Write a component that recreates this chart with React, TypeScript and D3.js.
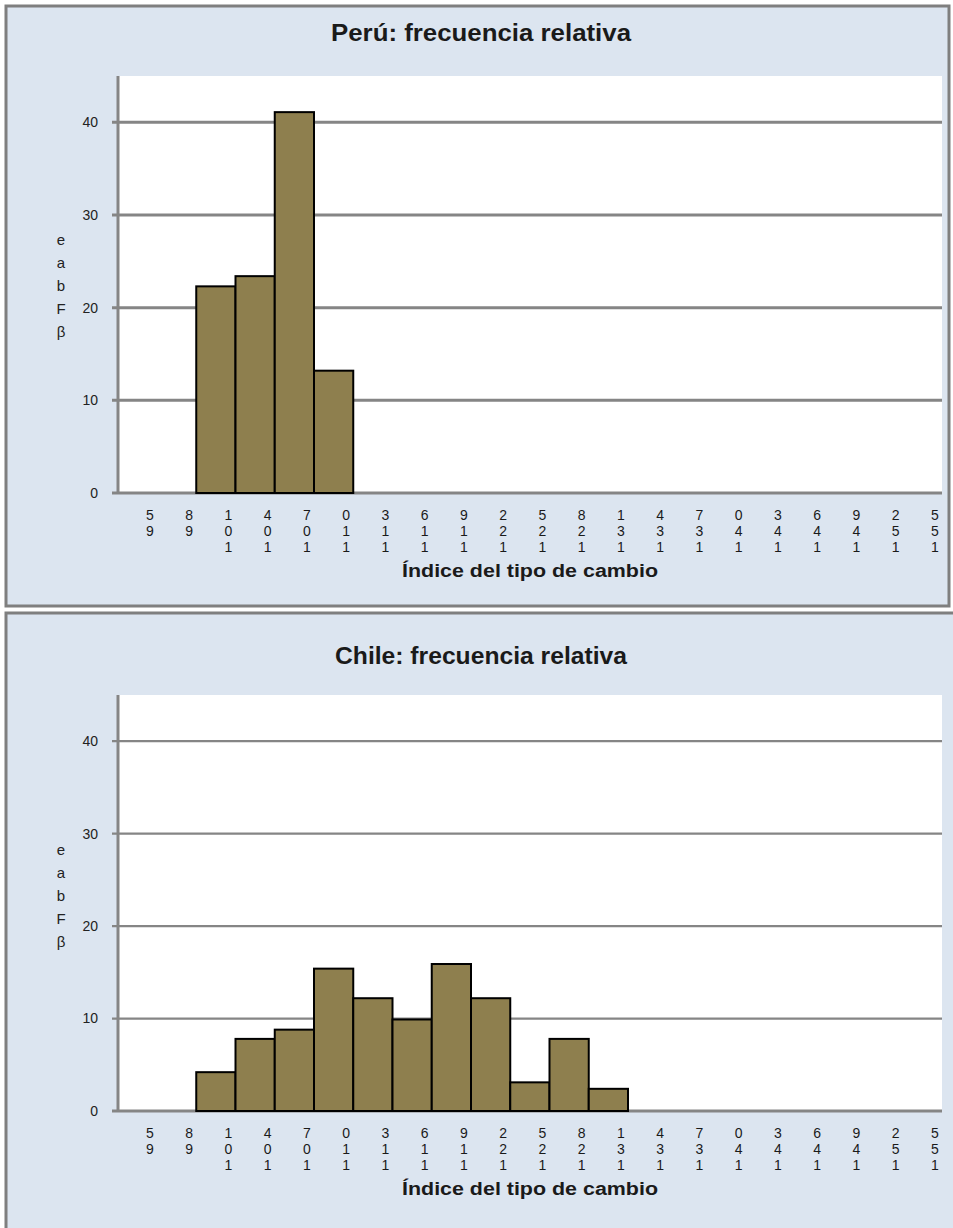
import React from "react";
import * as d3 from "d3";

// Exchange-rate index class marks shown on the category axis
const tickValues = [95, 98, 101, 104, 107, 110, 113, 116, 119, 122, 125, 128, 131, 134, 137, 140, 143, 146, 149, 152, 155];
const yTicks = [0, 10, 20, 30, 40];
const binWidth = 3;

// Relative frequency (%) per class, Perú
const peruBinStarts = [98, 101, 104, 107];
const peruFreq = [22.3, 23.4, 41.1, 13.2];

// Relative frequency (%) per class, Chile
const chileBinStarts = [98, 101, 104, 107, 110, 113, 116, 119, 122, 125, 128];
const chileFreq = [4.2, 7.8, 8.8, 15.4, 12.2, 9.9, 15.9, 12.2, 3.1, 7.8, 2.4];

const yCaption = "eabFβ";
const xTitle = "Índice del tipo de cambio";

const W = 953;
const H = 1228;

const BG = "#dce5f0";
const FRAME = "#7f7f7f";
const GRID = "#858585";
const BAR = "#8e7f4e";

type Layout = {
  box: { x: number; y: number; w: number; h: number };
  plot: { left: number; right: number; top: number; bottom: number };
  titleY: number;
  titleLen: number;
  yLabelCenter: number;
  gridWidth: number;
};

// Upright, top-to-bottom stacked text
const stacked: React.CSSProperties = {
  writingMode: "vertical-rl",
  textOrientation: "upright",
} as React.CSSProperties;

function Panel({ title, starts, values, layout }: { title: string; starts: number[]; values: number[]; layout: Layout }) {
  const { box, plot } = layout;
  const x = d3.scaleLinear().domain([95, 155]).range([150, 935]);
  const y = d3.scaleLinear().domain([0, 45]).range([plot.bottom, plot.top]);
  const barShift = 7;

  return (
    <g>
      <rect x={box.x} y={box.y} width={box.w} height={box.h} fill={BG} stroke={FRAME} strokeWidth={3} />
      <rect x={plot.left} y={plot.top} width={plot.right - plot.left} height={plot.bottom - plot.top} fill="#ffffff" />
      <text
        x={481}
        y={layout.titleY}
        textAnchor="middle"
        fontFamily="'Liberation Sans', Arial, sans-serif"
        fontWeight="bold"
        fontSize={23}
        fill="#1a1a1a"
        textLength={layout.titleLen}
        lengthAdjust="spacingAndGlyphs"
      >
        {title}
      </text>

      {/* horizontal gridlines with left tick stubs */}
      {yTicks.map((t) => (
        <g key={t}>
          <line x1={plot.left - 6} x2={plot.right} y1={y(t)} y2={y(t)} stroke={GRID} strokeWidth={t === 0 ? 3 : layout.gridWidth} />
          <text
            x={98}
            y={y(t)}
            dy="0.35em"
            textAnchor="end"
            fontFamily="'Liberation Sans', Arial, sans-serif"
            fontSize={14}
            fill="#222"
          >
            {t}
          </text>
        </g>
      ))}
      <line x1={plot.left} x2={plot.left} y1={plot.top} y2={plot.bottom + 1} stroke={GRID} strokeWidth={3} />

      {/* histogram bars */}
      {starts.map((s, i) => (
        <rect
          key={s}
          x={x(s) + barShift}
          y={y(values[i])}
          width={x(s + binWidth) - x(s)}
          height={y(0) - y(values[i])}
          fill={BAR}
          stroke="#000"
          strokeWidth={2}
        />
      ))}

      {/* class labels, digits stacked from last to first */}
      {tickValues.map((v) => (
        <text
          key={v}
          x={x(v)}
          y={plot.bottom + 14}
          style={stacked}
          fontFamily="'Liberation Sans', Arial, sans-serif"
          fontSize={14}
          fill="#1a1a1a"
        >
          {String(v).split("").reverse().join("")}
        </text>
      ))}

      <text
        x={530}
        y={plot.bottom + 84}
        textAnchor="middle"
        fontFamily="'Liberation Sans', Arial, sans-serif"
        fontWeight="bold"
        fontSize={18}
        fill="#1a1a1a"
        textLength={256}
        lengthAdjust="spacingAndGlyphs"
      >
        {xTitle}
      </text>

      {/* stacked vertical axis caption */}
      <text
        x={61}
        y={layout.yLabelCenter - 54}
        style={stacked}
        fontFamily="'Liberation Sans', Arial, sans-serif"
        fontSize={15}
        letterSpacing={6}
        fill="#222"
      >
        {yCaption}
      </text>
    </g>
  );
}

const peruLayout: Layout = {
  box: { x: 6, y: 6, w: 943, h: 600 },
  plot: { left: 118, right: 942, top: 76, bottom: 493 },
  titleY: 41,
  titleLen: 300,
  yLabelCenter: 285,
  gridWidth: 3,
};

const chileLayout: Layout = {
  box: { x: 6, y: 613, w: 960, h: 650 },
  plot: { left: 118, right: 942, top: 695, bottom: 1111 },
  titleY: 664,
  titleLen: 292,
  yLabelCenter: 895,
  gridWidth: 2.2,
};

export default function App() {
  return (
    <svg width={W} height={H} style={{ display: "block", position: "absolute", left: 0, top: 0 }}>
      <rect width={W} height={H} fill="#ffffff" />
      <Panel title="Perú: frecuencia relativa" starts={peruBinStarts} values={peruFreq} layout={peruLayout} />
      <Panel title="Chile: frecuencia relativa" starts={chileBinStarts} values={chileFreq} layout={chileLayout} />
    </svg>
  );
}
